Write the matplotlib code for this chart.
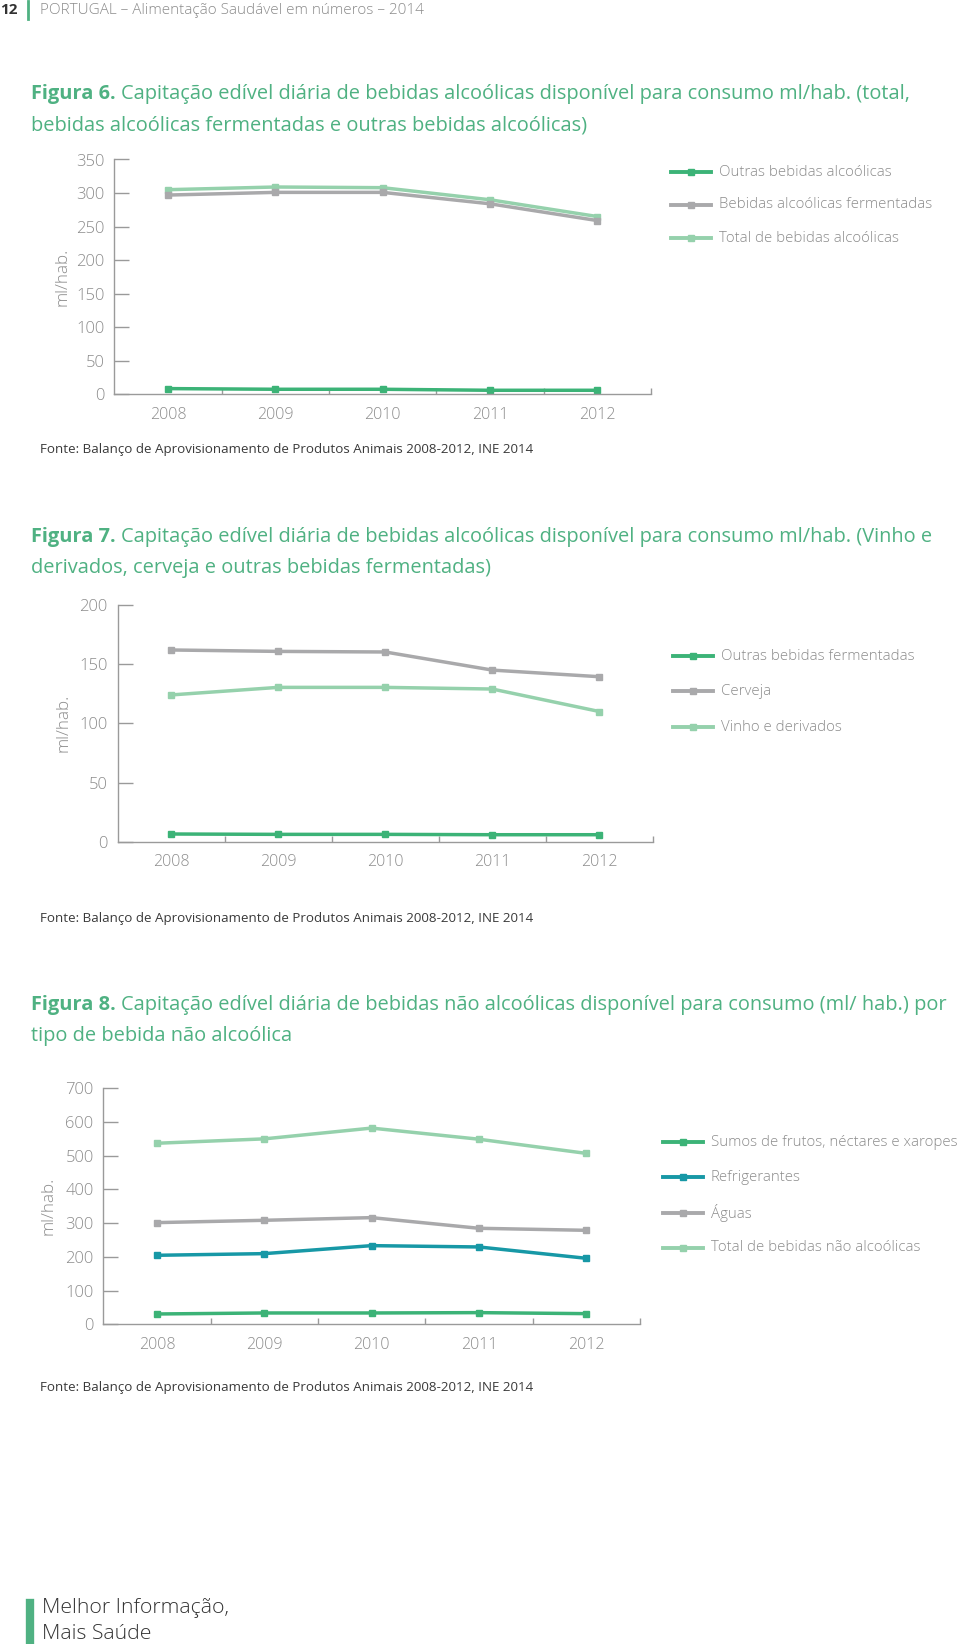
import numpy as np
import matplotlib.pyplot as plt
from matplotlib.lines import Line2D

plt.rcParams['font.family'] = ['Open Sans', 'DejaVu Sans']

years = ['2008', '2009', '2010', '2011', '2012']

# Figura 6
outras_alc = [8.5, 7.5, 7.5, 6.0, 6.0]
fermentadas = [297, 301, 301, 284, 259]
total_alc = [305, 309, 308, 290, 265]

# Figura 7
outras_ferm = [6.5, 6.2, 6.2, 5.9, 5.9]
cerveja = [162, 160.8, 160.3, 145, 139.4]
vinho = [124, 130.4, 130.4, 129, 110]

# Figura 8
sumos = [30.6, 33.6, 33.6, 34.6, 31.6]
refrig = [204.7, 209.6, 233.3, 229.4, 195.8]
aguas = [301.6, 308.5, 316.4, 284.8, 278.8]
total_nao = [537, 550, 582, 549, 507]

fonte = "Fonte: Balanço de Aprovisionamento de Produtos Animais 2008-2012, INE 2014"

c_dark = '#3cb377'
c_grey = '#a9a9ab'
c_light = '#95d1ac'
c_teal = '#1798a6'
c_title = '#4fb182'
c_text = '#8c8c8c'
c_axis = '#9a9a9a'

W, H = 960, 1644
fig = plt.figure(figsize=(W/100, H/100), dpi=100)

def fy(y):
    return 1 - y/H

def rect(l, r, t, b):
    return [l/W, 1 - b/H, (r-l)/W, (b-t)/H]

def make_chart(pos, series, ymax, step, leg_x, leg_y, leg_dy, ylab_x):
    ax = fig.add_axes(pos)
    x = np.arange(len(years))
    for vals, col, lab in series:
        ax.plot(x, vals, color=col, lw=2.5, marker='s', ms=5, label=lab, clip_on=False)
    ax.set_xlim(-0.5, len(years) - 0.5)
    ax.set_ylim(0, ymax)
    ax.set_yticks(np.arange(0, ymax + 1, step))
    ax.set_xticks(x)
    ax.set_xticklabels(years)
    ax.set_xticks(np.arange(0.5, len(years), 1), minor=True)
    for s in ['top', 'right']:
        ax.spines[s].set_visible(False)
    for s in ['left', 'bottom']:
        ax.spines[s].set_color(c_axis)
        ax.spines[s].set_linewidth(1)
    ax.tick_params(axis='y', direction='in', length=11, width=1, color=c_axis,
                   labelcolor=c_text, labelsize=12, pad=7)
    ax.tick_params(axis='x', which='major', length=0, labelcolor=c_text,
                   labelsize=11.5, pad=9)
    ax.tick_params(axis='x', which='minor', direction='in', length=4, width=1,
                   color=c_axis)
    for t in ax.get_xticklabels() + ax.get_yticklabels():
        t.set_fontweight('light')
    # y label
    bb = ax.get_position()
    fig.text(ylab_x/W, bb.y0 + bb.height/2, 'ml/hab.', rotation=90,
             ha='center', va='center', color=c_text, fontsize=12.3, fontweight='light')
    # legend (top entry is the last series)
    for i, (vals, col, lab) in enumerate(series[::-1]):
        yy = fy(leg_y + i*leg_dy)
        fig.add_artist(Line2D([leg_x/W, (leg_x+40)/W], [yy, yy], color=col, lw=2.8,
                              transform=fig.transFigure))
        fig.add_artist(Line2D([(leg_x+20)/W], [yy], color=col, marker='s', ms=4.5,
                              transform=fig.transFigure))
        fig.text((leg_x+48)/W, yy, lab, ha='left', va='center', color=c_text,
                 fontsize=10.8, fontweight='light')
    return ax

def title(y, bold, rest):
    t = fig.text(31/W, fy(y), bold, ha='left', va='center', color=c_title,
                 fontsize=14.4, fontweight='bold')
    fig.canvas.draw()
    bb = t.get_window_extent()
    fig.text((bb.x1 + 5)/W, fy(y), rest[0], ha='left', va='center', color=c_title,
             fontsize=14.4)
    fig.text(31/W, fy(y + 31), rest[1], ha='left', va='center', color=c_title,
             fontsize=14.4)

# header
fig.text(0/W, fy(10), '12', ha='left', va='center', fontsize=11, fontweight='bold',
         color='#333333')
fig.add_artist(Line2D([28/W, 28/W], [fy(1), fy(19)], color=c_title, lw=2,
                      transform=fig.transFigure))
fig.text(40/W, fy(10), 'PORTUGAL – Alimentação Saudável em números – 2014', ha='left',
         va='center', fontsize=11, fontweight='light', color='#8c8c8c')

# Figura 6
title(94, 'Figura 6.', ['Capitação edível diária de bebidas alcoólicas disponível para consumo ml/hab. (total,',
                        'bebidas alcoólicas fermentadas e outras bebidas alcoólicas)'])
make_chart(rect(114.3, 650.9, 159.5, 394.3),
           [(total_alc, c_light, 'Total de bebidas alcoólicas'),
            (fermentadas, c_grey, 'Bebidas alcoólicas fermentadas'),
            (outras_alc, c_dark, 'Outras bebidas alcoólicas')],
           350, 50, 671, 172, 33, 62.5)
fig.text(40/W, fy(449), fonte, ha='left', va='center', fontsize=9.6, color='#3a3a3a')

# Figura 7
title(537, 'Figura 7.', ['Capitação edível diária de bebidas alcoólicas disponível para consumo ml/hab. (Vinho e',
                         'derivados, cerveja e outras bebidas fermentadas)'])
make_chart(rect(117.5, 652.9, 605, 841.7),
           [(vinho, c_light, 'Vinho e derivados'),
            (cerveja, c_grey, 'Cerveja'),
            (outras_ferm, c_dark, 'Outras bebidas fermentadas')],
           200, 50, 673, 656, 35.5, 63.5)
fig.text(40/W, fy(918), fonte, ha='left', va='center', fontsize=9.6, color='#3a3a3a')

# Figura 8
title(1005, 'Figura 8.', ['Capitação edível diária de bebidas não alcoólicas disponível para consumo (ml/ hab.) por',
                          'tipo de bebida não alcoólica'])
make_chart(rect(103.3, 639.8, 1088.3, 1324.3),
           [(total_nao, c_light, 'Total de bebidas não alcoólicas'),
            (aguas, c_grey, 'Águas'),
            (refrig, c_teal, 'Refrigerantes'),
            (sumos, c_dark, 'Sumos de frutos, néctares e xaropes')],
           700, 100, 663, 1142, 35.3, 48.7)
fig.text(40/W, fy(1388), fonte, ha='left', va='center', fontsize=9.6, color='#3a3a3a')

# footer
fig.add_artist(Line2D([30/W, 30/W], [fy(1603), fy(1643)], color=c_title, lw=6,
                      transform=fig.transFigure))
fig.text(42/W, fy(1608), 'Melhor Informação,', ha='left', va='center', fontsize=15.3,
         color='#333333', fontweight='light')
fig.text(42/W, fy(1634), 'Mais Saúde', ha='left', va='center', fontsize=15.3,
         color='#333333', fontweight='light')

plt.savefig('out.png', dpi=100)
